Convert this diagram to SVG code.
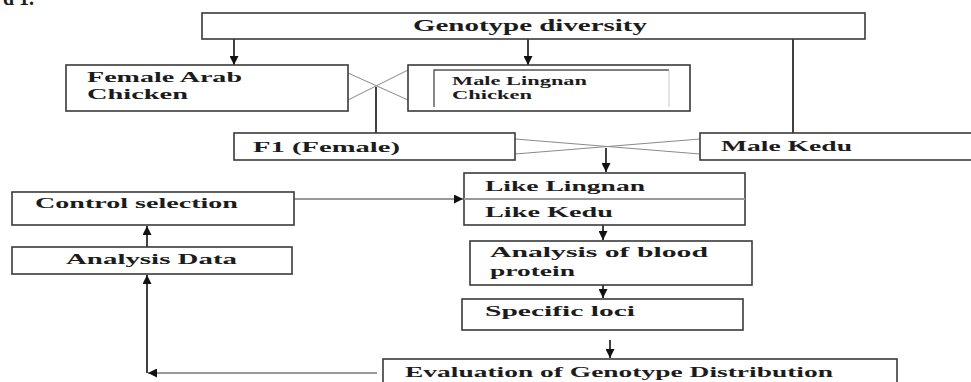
<svg xmlns="http://www.w3.org/2000/svg" width="971" height="382" viewBox="0 0 971 382">
<style>
.box{fill:#fff;stroke:#3a3a3a;stroke-width:1.6}
.t{font-family:"Liberation Serif","Times New Roman",serif;font-weight:bold;fill:#1c1c1c}
.c{stroke:#111;stroke-width:1.6;fill:none}
.g{stroke:#999;stroke-width:1.8;fill:none}
.x{stroke:#8a8a8a;stroke-width:1;fill:none}
</style>
<defs>
<marker id="ah" viewBox="0 0 10 10" refX="10" refY="5" markerWidth="9" markerHeight="9" markerUnits="userSpaceOnUse" orient="auto">
<path d="M0,0 L10,5 L0,10 z" fill="#111"/>
</marker>
</defs>
<rect width="971" height="382" fill="#fff"/>
<text class="t" x="3" y="5" font-size="20">d 1.</text>

<g id="connectors">
<line class="c" x1="234" y1="32" x2="234" y2="65" marker-end="url(#ah)"/>
<line class="c" x1="528" y1="30" x2="528" y2="65" marker-end="url(#ah)"/>
<line class="c" x1="793" y1="32" x2="793" y2="133"/>
<line class="x" x1="348" y1="73" x2="408" y2="100"/>
<line class="x" x1="348" y1="100" x2="408" y2="70"/>
<line class="c" x1="376" y1="87" x2="376" y2="133"/>
<line class="x" x1="515" y1="139" x2="700" y2="154"/>
<line class="x" x1="515" y1="154" x2="700" y2="139"/>
<line class="c" x1="606" y1="148" x2="606" y2="172" marker-end="url(#ah)"/>
<line class="c" x1="603" y1="225" x2="603" y2="240" marker-end="url(#ah)"/>
<line class="c" x1="603" y1="285" x2="603" y2="298" marker-end="url(#ah)"/>
<line class="c" x1="610" y1="340" x2="610" y2="358" marker-end="url(#ah)"/>
<line class="g" x1="294" y1="199" x2="463" y2="199" marker-end="url(#ah)"/>
<line class="c" x1="147" y1="247" x2="147" y2="226" marker-end="url(#ah)"/>
<line class="g" x1="377" y1="373" x2="148" y2="373" marker-end="url(#ah)"/>
<line class="c" x1="147" y1="373" x2="147" y2="275" marker-end="url(#ah)"/>
</g>

<g id="genotype">
<rect class="box" x="202" y="13" width="663" height="26"/>
<text class="t" x="413" y="31" font-size="16" textLength="234" lengthAdjust="spacingAndGlyphs">Genotype diversity</text>
</g>

<g id="female-arab">
<rect class="box" x="66" y="65" width="282" height="46"/>
<text class="t" x="87" y="82" font-size="15" textLength="155" lengthAdjust="spacingAndGlyphs">Female Arab</text>
<text class="t" x="87" y="99" font-size="15" textLength="101" lengthAdjust="spacingAndGlyphs">Chicken</text>
</g>

<g id="male-lingnan">
<rect class="box" x="408" y="65" width="282" height="46"/>
<path d="M434,107 L434,70 L669,70" stroke="#555" stroke-width="1.4" fill="none"/>
<line x1="669" y1="70" x2="669" y2="107" stroke="#c8c8c8" stroke-width="1"/>
<text class="t" x="452" y="85" font-size="12" textLength="135" lengthAdjust="spacingAndGlyphs">Male Lingnan</text>
<text class="t" x="452" y="99" font-size="12" textLength="80" lengthAdjust="spacingAndGlyphs">Chicken</text>
</g>

<g id="f1">
<rect class="box" x="234" y="133" width="281" height="27"/>
<text class="t" x="253" y="152" font-size="15" textLength="147" lengthAdjust="spacingAndGlyphs">F1 (Female)</text>
</g>

<g id="male-kedu">
<rect class="box" x="700" y="133" width="274" height="27"/>
<text class="t" x="721" y="151" font-size="15" textLength="131" lengthAdjust="spacingAndGlyphs">Male Kedu</text>
</g>

<g id="like">
<rect class="box" x="464" y="173" width="281" height="52"/>
<line x1="464" y1="199" x2="745" y2="199" stroke="#999" stroke-width="1.8"/>
<text class="t" x="485" y="191" font-size="15" textLength="160" lengthAdjust="spacingAndGlyphs">Like Lingnan</text>
<text class="t" x="485" y="217" font-size="15" textLength="128" lengthAdjust="spacingAndGlyphs">Like Kedu</text>
</g>

<g id="control-selection">
<rect class="box" x="12" y="192" width="282" height="33"/>
<text class="t" x="35" y="208" font-size="15" textLength="203" lengthAdjust="spacingAndGlyphs">Control selection</text>
</g>

<g id="analysis-data">
<rect class="box" x="12" y="247" width="280" height="27"/>
<text class="t" x="66" y="264" font-size="15" textLength="171" lengthAdjust="spacingAndGlyphs">Analysis Data</text>
</g>

<g id="blood-protein">
<rect class="box" x="470" y="241" width="282" height="44"/>
<text class="t" x="490" y="257" font-size="15" textLength="218" lengthAdjust="spacingAndGlyphs">Analysis of blood</text>
<text class="t" x="490" y="276" font-size="15" textLength="85" lengthAdjust="spacingAndGlyphs">protein</text>
</g>

<g id="specific-loci">
<rect class="box" x="462" y="299" width="281" height="31"/>
<text class="t" x="485" y="316" font-size="15" textLength="150" lengthAdjust="spacingAndGlyphs">Specific loci</text>
</g>

<g id="evaluation">
<rect class="box" x="383" y="359" width="514" height="30"/>
<text class="t" x="405" y="377" font-size="15" textLength="428" lengthAdjust="spacingAndGlyphs">Evaluation of Genotype Distribution</text>
</g>
</svg>
